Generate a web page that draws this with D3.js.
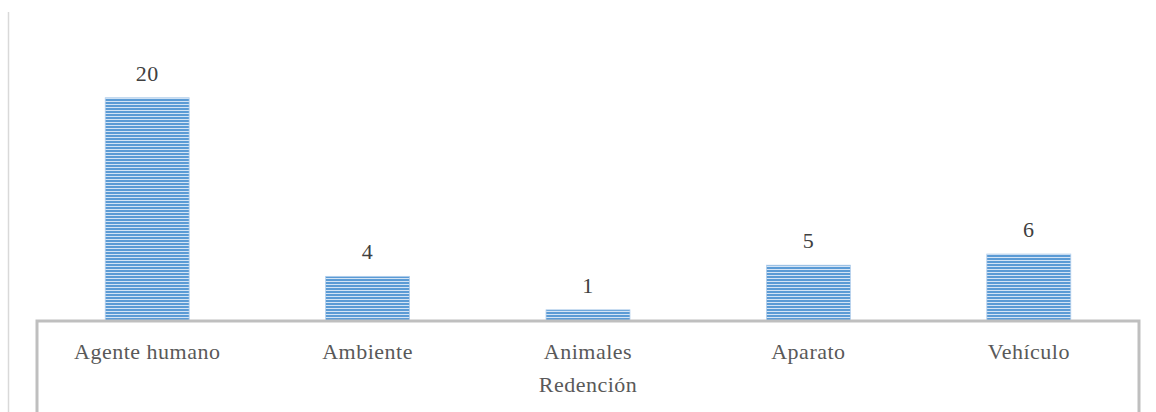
<!DOCTYPE html>
<html>
<head>
<meta charset="utf-8">
<script src="https://cdn.jsdelivr.net/npm/d3@7"></script>
<style>
  html, body { margin: 0; padding: 0; background: #ffffff; }
  svg { display: block; }
</style>
</head>
<body>
<svg id="chart" width="1156" height="412"></svg>
<script>
// Categories and counts
const categories = ["Agente humano", "Ambiente", "Animales", "Aparato", "Vehículo"];
const counts = [20, 4, 1, 5, 6];
const axisTitle = "Redención";

const W = 1156, H = 412;
const plotLeft = 37, plotRight = 1139, baseY = 321, topY = 42;
const serif = "'Liberation Serif', 'Times New Roman', serif";

const svg = d3.select("#chart");

// Horizontal-line fill for the bars
const defs = svg.append("defs");
const pat = defs.append("pattern")
  .attr("id", "hstripes")
  .attr("patternUnits", "userSpaceOnUse")
  .attr("width", 6).attr("height", 3)
  .attr("y", baseY);
pat.append("rect").attr("width", 6).attr("height", 3).attr("fill", "#d4e4f5");
pat.append("rect").attr("width", 6).attr("height", 2).attr("fill", "#5b9bd5");

const x = d3.scaleBand()
  .domain(categories)
  .range([plotLeft, plotRight])
  .paddingInner(0.619)
  .paddingOuter(0.3095);

const y = d3.scaleLinear().domain([0, 25]).range([baseY, topY]);

// Thin frame line on the left edge
svg.append("line")
  .attr("x1", 8.5).attr("x2", 8.5)
  .attr("y1", 12).attr("y2", H)
  .attr("stroke", "#d9d9d9").attr("stroke-width", 1.5);

const data = categories.map((c, i) => ({ c, v: counts[i] }));

// Bars
svg.append("g").selectAll("rect")
  .data(data)
  .join("rect")
  .attr("x", d => x(d.c))
  .attr("y", d => y(d.v))
  .attr("width", x.bandwidth())
  .attr("height", d => baseY - y(d.v))
  .attr("fill", "url(#hstripes)")
  .attr("stroke", "#b3cfec")
  .attr("stroke-width", 0.8);

// Value labels
svg.append("g").selectAll("text")
  .data(data)
  .join("text")
  .attr("x", d => x(d.c) + x.bandwidth() / 2)
  .attr("y", d => y(d.v) - 17)
  .attr("text-anchor", "middle")
  .attr("font-family", serif)
  .attr("font-size", 22)
  .attr("letter-spacing", 0.5)
  .attr("fill", "#404040")
  .text(d => d.v);

// Category axis
const axis = d3.axisBottom(x).tickSize(0).tickPadding(0);
const gAxis = svg.append("g")
  .attr("transform", `translate(0,${baseY})`)
  .call(axis);
gAxis.select(".domain").remove();
gAxis.selectAll("text")
  .attr("y", 38)
  .attr("dy", null)
  .attr("font-family", serif)
  .attr("font-size", 22)
  .attr("letter-spacing", 0.5)
  .attr("fill", "#595959");

// Category box (baseline plus side walls)
const [r0, r1] = x.range();
svg.append("path")
  .attr("d", `M${r0},${H} V${baseY} H${r1} V${H}`)
  .attr("fill", "none")
  .attr("stroke", "#bfbfbf")
  .attr("stroke-width", 3);

// Axis title
svg.append("text")
  .attr("x", (r0 + r1) / 2)
  .attr("y", 392)
  .attr("text-anchor", "middle")
  .attr("font-family", serif)
  .attr("font-size", 22)
  .attr("letter-spacing", 0.5)
  .attr("fill", "#595959")
  .text(axisTitle);
</script>
</body>
</html>
